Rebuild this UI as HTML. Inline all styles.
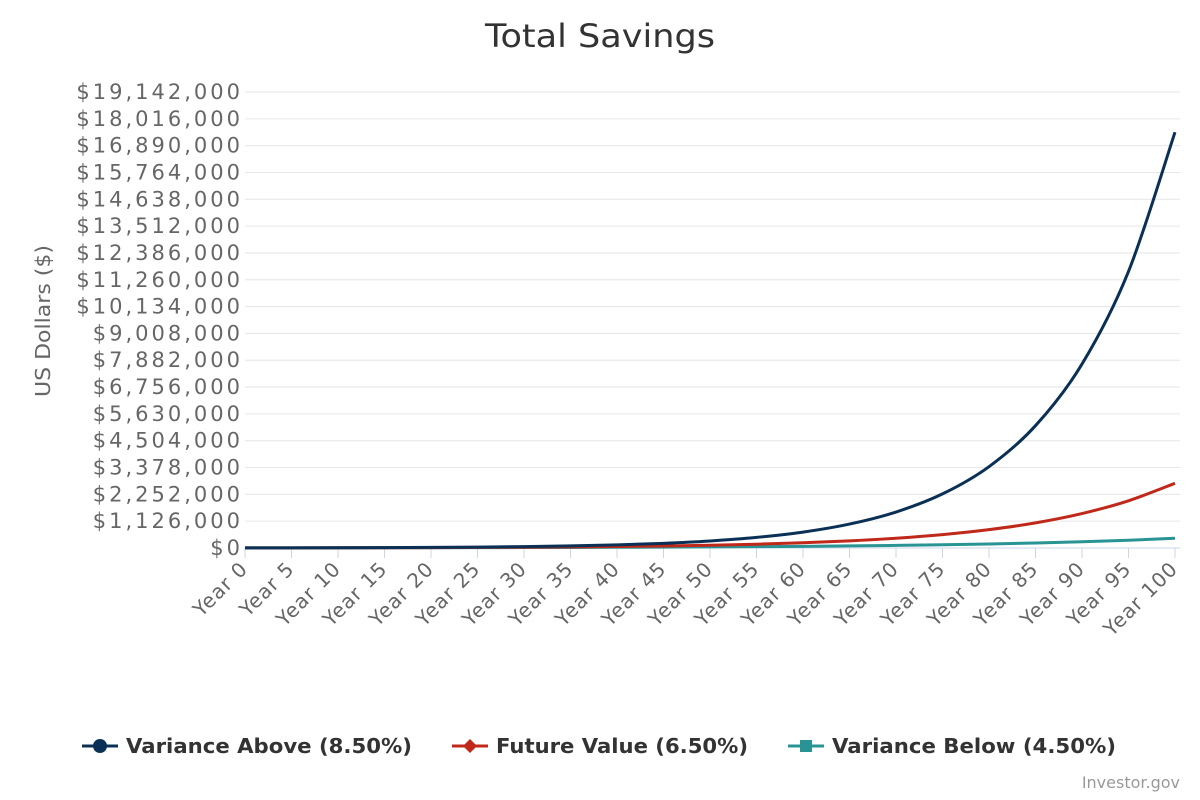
<!DOCTYPE html>
<html><head><meta charset="utf-8"><style>
html,body{margin:0;padding:0;background:#fff;width:1200px;height:800px;overflow:hidden;font-family:"DejaVu Sans","Liberation Sans",sans-serif;}
</style></head><body>
<svg id="chart" width="1200" height="800" xmlns="http://www.w3.org/2000/svg" font-family="DejaVu Sans, Liberation Sans, sans-serif">
<text x="600" y="47" text-anchor="middle" font-size="32" fill="#333" textLength="230" lengthAdjust="spacingAndGlyphs">Total Savings</text>
<text transform="translate(50,321) rotate(-90)" text-anchor="middle" font-size="20" fill="#666" textLength="152" lengthAdjust="spacingAndGlyphs">US Dollars ($)</text>
<g id="grid"></g><g id="yticks"></g><g id="xticks"></g><g id="series"></g>
<g>
 <g>
  <line x1="82" y1="746" x2="118" y2="746" stroke="#0b3055" stroke-width="3"/><circle cx="100" cy="746" r="7" fill="#0b3055"/>
  <text x="126" y="753" font-size="20" font-weight="bold" fill="#333" textLength="286" lengthAdjust="spacingAndGlyphs">Variance Above (8.50%)</text></g>
 <g>
  <line x1="452" y1="746" x2="488" y2="746" stroke="#c0281a" stroke-width="3"/><path d="M470 739 L477 746 L470 753 L463 746Z" fill="#c0281a"/>
  <text x="496" y="753" font-size="20" font-weight="bold" fill="#333" textLength="252" lengthAdjust="spacingAndGlyphs">Future Value (6.50%)</text></g>
 <g>
  <line x1="788" y1="746" x2="824" y2="746" stroke="#2a9494" stroke-width="3"/><rect x="800" y="740" width="12" height="12" fill="#2a9494"/>
  <text x="832" y="753" font-size="20" font-weight="bold" fill="#333" textLength="284" lengthAdjust="spacingAndGlyphs">Variance Below (4.50%)</text></g>
</g>
<text x="1180" y="788" text-anchor="end" font-size="16" fill="#999">Investor.gov</text>
</svg>
<script>
const years=[0,5,10,15,20,25,30,35,40,45,50,55,60,65,70,75,80,85,90,95,100];
const above=[5000,7518,11305,16999,25560,38434,57792,86899,130666,196477,295435,444233,667970,1004400,1510300,2270950,3414750,5134500,7720500,11609000,17456000];
const future=[5000,6850,9386,12859,17618,24139,33072,45311,62081,85056,116534,159660,218750,299705,410620,562590,770800,1056050,1446900,1982400,2716050];
const below=[5000,6231,7765,9676,12059,15027,18727,23337,29082,36241,45163,56282,70137,87404,108921,135735,169151,210794,262689,327359,407943];
const yTicks=[0,1126000,2252000,3378000,4504000,5630000,6756000,7882000,9008000,10134000,11260000,12386000,13512000,14638000,15764000,16890000,18016000,19142000];
const NS="http://www.w3.org/2000/svg";
const X0=245,X1=1175,Y0=548,Y1=92,YMAX=19142000;
const sx=v=>X0+(X1-X0)*v/100, sy=v=>Y0-(Y0-Y1)*v/YMAX;
function mk(t,a,p){const e=document.createElementNS(NS,t);for(const k in a)e.setAttribute(k,a[k]);p.appendChild(e);return e;}
const grid=document.getElementById('grid'),yt=document.getElementById('yticks'),xt=document.getElementById('xticks'),sr=document.getElementById('series');
yTicks.forEach(v=>{
 const y=sy(v);
 const l=mk('line',{x1:X0,x2:X1+5,y1:y,y2:y,stroke:v===0?'#ccd6eb':'#e6e6e6','stroke-width':1},grid);
 
 
 const t=mk('text',{x:243,y:y+7,'text-anchor':'end','font-size':21,fill:'#666','letter-spacing':'3'},yt);
 t.textContent='$'+v.toLocaleString('en-US');
 
 
});
years.forEach(v=>{
 const x=sx(v);
 const l=mk('line',{x1:x,x2:x,y1:Y0,y2:Y0+10,stroke:'#ccd6eb'},xt);
 
 
 const t=mk('text',{x:x+4,y:Y0+22,'text-anchor':'end','font-size':20,'letter-spacing':'1',fill:'#666',transform:`rotate(-45 ${x+4} ${Y0+22})`},xt);
 t.textContent='Year '+v;
 
 
});
function path(vals){
 const p=years.map((y,i)=>[sx(y),sy(vals[i])]);
 let d=`M${p[0][0]},${p[0][1]}`;
 for(let i=0;i<p.length-1;i++){
  const a=p[Math.max(0,i-1)],b=p[i],c=p[i+1],e=p[Math.min(p.length-1,i+2)];
  d+=` C${b[0]+(c[0]-a[0])/6},${b[1]+(c[1]-a[1])/6} ${c[0]-(e[0]-b[0])/6},${c[1]-(e[1]-b[1])/6} ${c[0]},${c[1]}`;
 }
 return d;
}
[[below,'#2a9494','series-variance-below'],[future,'#c0281a','series-future-value'],[above,'#0b3055','series-variance-above']].forEach(s=>{
 const e=mk('path',{d:path(s[0]),fill:'none',stroke:s[1],'stroke-width':3},sr);
 
 
});
</script>
</body></html>
